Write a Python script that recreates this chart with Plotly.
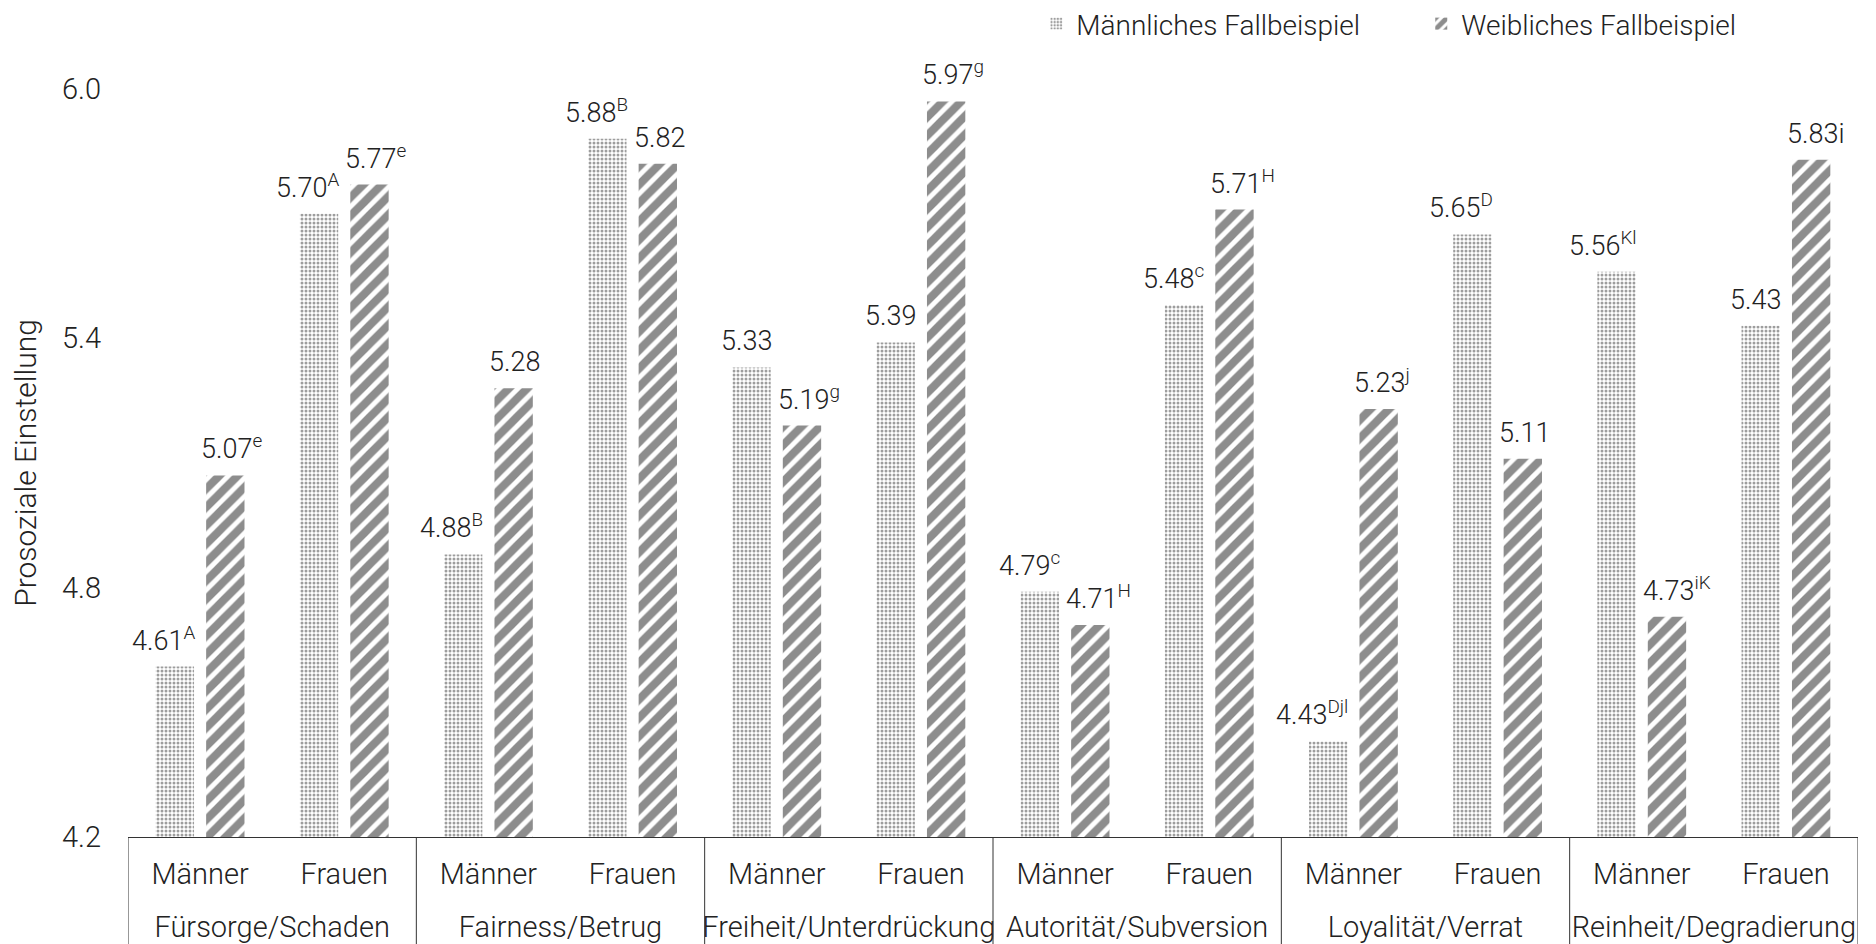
import plotly.graph_objects as go

# ---- data ----
groups = ["Fürsorge/Schaden", "Fairness/Betrug", "Freiheit/Unterdrückung",
          "Autorität/Subversion", "Loyalität/Verrat", "Reinheit/Degradierung"]
subgroups = ["Männer", "Frauen"]
series_names = ["Männliches Fallbeispiel", "Weibliches Fallbeispiel"]

male_values = [4.61, 5.70, 4.88, 5.88, 5.33, 5.39, 4.79, 5.48, 4.43, 5.65, 5.56, 5.43]
female_values = [5.07, 5.77, 5.28, 5.82, 5.19, 5.97, 4.71, 5.71, 5.23, 5.11, 4.73, 5.83]
male_sup = ["A", "A", "B", "B", "", "", "c", "c", "Djl", "D", "Kl", ""]
female_sup = ["e", "e", "", "", "g", "g", "H", "H", "j", "", "iK", ""]
female_suffix = ["", "", "", "", "", "", "", "", "", "", "", "i"]

y_ticks = [4.2, 4.8, 5.4, 6.0]
y_title = "Prosoziale Einstellung"

# ---- build ----
categories = [f"{g} – {s}" for g in groups for s in subgroups]
inner_labels = [s for _ in groups for s in subgroups]
n_cat = len(categories)
n_sub = len(subgroups)
group_centers = [i * n_sub + (n_sub - 1) / 2 for i in range(len(groups))]
group_bounds = [i * n_sub - 0.5 for i in range(len(groups) + 1)]


def labels(values, sups, suffixes=None):
    out = []
    for i, (v, s) in enumerate(zip(values, sups)):
        t = f"{v:.2f}"
        if s:
            t += f"<sup>{s}</sup>"
        if suffixes and suffixes[i]:
            t += suffixes[i]
        out.append(t)
    return out


FONT = "Roboto"
TXT = "#222222"
LINE = "#333333"
FS_LABEL = 27
FS_AXIS = 29

fig = go.Figure()
fig.add_trace(go.Bar(
    name=series_names[0], x=categories, y=male_values,
    marker=dict(color="white", line=dict(width=0),
                pattern=dict(shape=".", fgcolor="#3c3c3c", bgcolor="white",
                             size=4, solidity=0.45)),
))
fig.add_trace(go.Bar(
    name=series_names[1], x=categories, y=female_values,
    marker=dict(color="white", line=dict(width=0),
                pattern=dict(shape="/", fgcolor="#1c1c1c", bgcolor="white",
                             size=13, solidity=0.62)),
))

# value labels: male labels sit left of the category centre, female labels right of it
annotations = []
for cat, v, t in zip(categories, male_values, labels(male_values, male_sup)):
    annotations.append(dict(x=cat, y=v, xref="x", yref="y", text=t, showarrow=False,
                            xanchor="right", yanchor="bottom", xshift=-3, yshift=8,
                            font=dict(family=FONT, size=FS_LABEL, color=TXT, weight=300)))
for cat, v, t in zip(categories, female_values, labels(female_values, female_sup, female_suffix)):
    annotations.append(dict(x=cat, y=v, xref="x", yref="y", text=t, showarrow=False,
                            xanchor="left", yanchor="bottom", xshift=-1, yshift=8,
                            font=dict(family=FONT, size=FS_LABEL, color=TXT, weight=300)))

shapes = [dict(type="line", xref="x2", yref="paper", x0=b, x1=b, y0=0, y1=-0.2,
               line=dict(color=LINE, width=1)) for b in group_bounds]

fig.update_layout(
    width=1876, height=944,
    margin=dict(l=128, r=18, t=89, b=107, autoexpand=False),
    paper_bgcolor="white", plot_bgcolor="white",
    barmode="group", bargap=0.3, bargroupgap=0.24,
    font=dict(family=FONT, size=FS_LABEL, color=TXT, weight=300),
    legend=dict(orientation="h", x=0.525, xanchor="left", y=1.087, yanchor="middle",
                font=dict(family=FONT, size=28, color=TXT, weight=300),
                itemwidth=30, entrywidth=340, traceorder="normal"),
    showlegend=True,
    shapes=shapes,
    annotations=annotations,
    xaxis=dict(
        type="category", range=[-0.5, n_cat - 0.5],
        tickvals=categories, ticktext=inner_labels,
        showline=True, linecolor=LINE, linewidth=1,
        ticks="", showgrid=False, zeroline=False, ticklabelstandoff=11,
        tickfont=dict(family=FONT, size=FS_AXIS, color=TXT, weight=300),
    ),
    xaxis2=dict(
        type="linear", overlaying="x", anchor="y", side="bottom",
        range=[-0.5, n_cat - 0.5], tickvals=group_centers, ticktext=groups,
        showline=False, ticks="", showgrid=False, zeroline=False,
        ticklabelstandoff=70,
        tickfont=dict(family=FONT, size=FS_AXIS, color=TXT, weight=300),
    ),
    yaxis=dict(
        range=[4.2, 6.0], tickvals=y_ticks, ticktext=[f"{v:.1f}" for v in y_ticks],
        showgrid=False, zeroline=False, showline=False, ticks="",
        ticklabelstandoff=26,
        tickfont=dict(family=FONT, size=FS_AXIS, color=TXT, weight=300),
        title=dict(text=y_title, standoff=16,
                   font=dict(family=FONT, size=30, color=TXT, weight=300)),
    ),
)

fig.write_html("out.html")
